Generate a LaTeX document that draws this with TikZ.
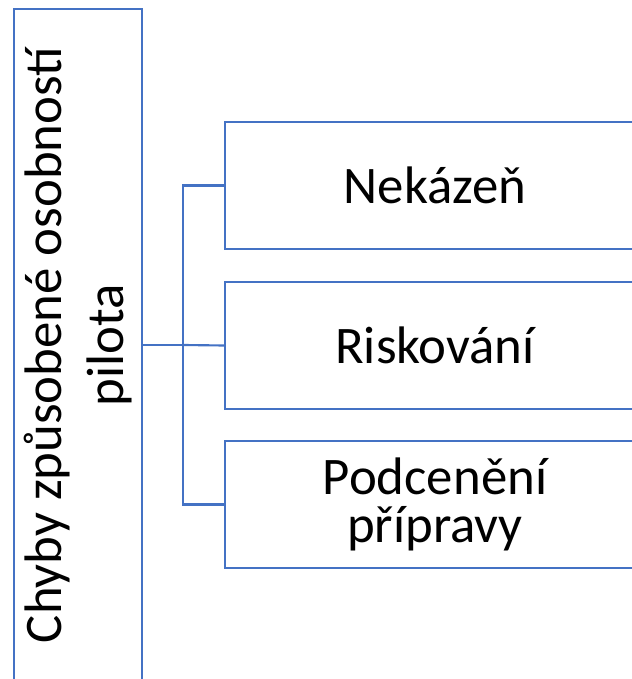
\documentclass[tikz,border=0pt]{standalone}
\usepackage{fontspec}
\setmainfont{Carlito}
\definecolor{bl}{RGB}{68,114,196}

\tikzstyle{bo1}=[rectangle,draw=bl,line width=1.6pt,minimum width=504pt,minimum height=96pt,rotate=90,align=center,inner sep=0pt,font=\fontsize{39.6}{47}\selectfont]
\tikzstyle{bo2}=[rectangle,draw=bl,line width=1.6pt,minimum width=315pt,minimum height=95.25pt,align=center,inner sep=0pt,font=\fontsize{39.6}{36}\selectfont]
\tikzstyle{li}=[draw=bl,line width=1.6pt]

\begin{document}
\begin{tikzpicture}[x=0.75pt,y=0.75pt]
\useasboundingbox (0,0) rectangle (632,679);
\clip (0,0) rectangle (632,679);

%Left: the cause
\node [bo1] at (78,334) (ch) {Chyby způsobené osobností\\pilota};

%Right: the three kinds
\node [bo2] at (435,493.5) (ne) {Nekázeň};
\node [bo2] at (435,333.5) (ri) {Riskování};
\node [bo2] at (435,174.5) (po) {Podcenění\\přípravy};

%Fork
\coordinate (fo) at (183,334);
\draw [li] (ch.south) -- (fo);
\draw [li] (fo) |- (ne.west);
\draw [li] (fo) -- (ri.west);
\draw [li] (fo) |- (po.west);

\end{tikzpicture}
\end{document}
